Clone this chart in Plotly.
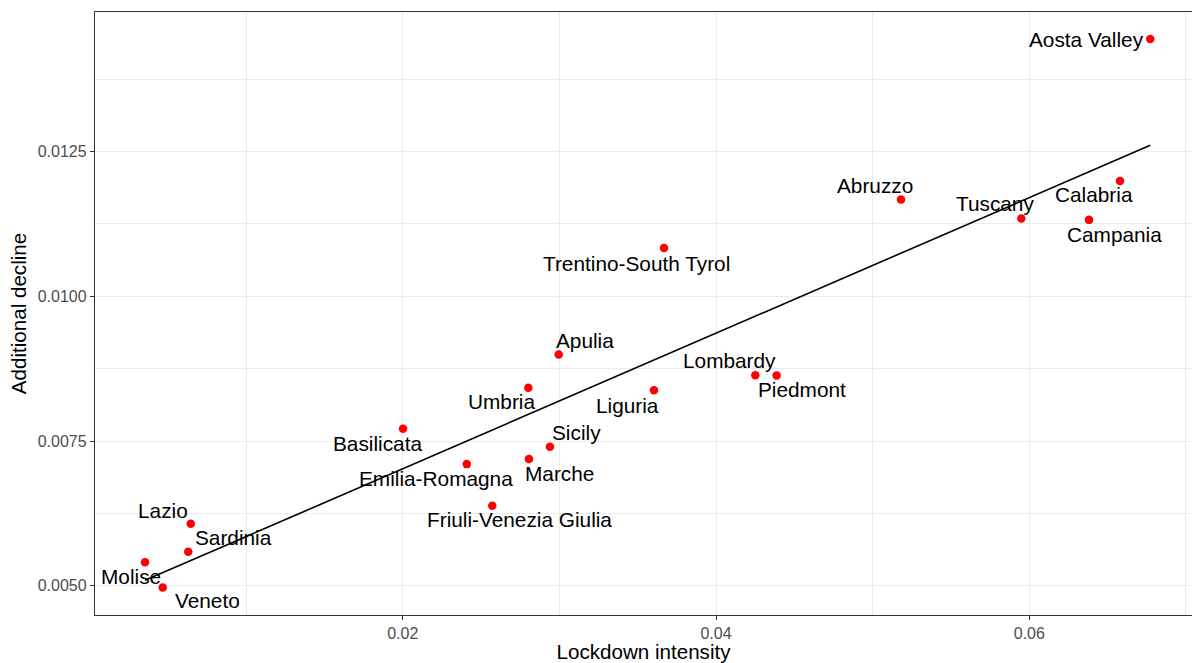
import numpy as np
import plotly.graph_objects as go

regions = ["Aosta Valley", "Calabria", "Campania", "Tuscany", "Abruzzo",
           "Trentino-South Tyrol", "Apulia", "Umbria", "Liguria", "Basilicata",
           "Sicily", "Marche", "Emilia-Romagna", "Friuli-Venezia Giulia",
           "Lombardy", "Piedmont", "Lazio", "Sardinia", "Molise", "Veneto"]
lockdown_intensity = [0.06772, 0.06579, 0.06381, 0.05949, 0.05181,
                      0.03668, 0.02996, 0.02802, 0.03604, 0.02002,
                      0.02940, 0.02806, 0.02409, 0.02572,
                      0.04251, 0.04387, 0.00647, 0.00631, 0.00355, 0.00468]
additional_decline = [0.014441, 0.011991, 0.011318, 0.011341, 0.011668,
                      0.010832, 0.008994, 0.008420, 0.008378, 0.007712,
                      0.007402, 0.007188, 0.007101, 0.006384,
                      0.008637, 0.008632, 0.006073, 0.005590, 0.005406, 0.004969]

x_ticks = [0.02, 0.04, 0.06]
x_tick_text = ["0.02", "0.04", "0.06"]
y_ticks = [0.0050, 0.0075, 0.0100, 0.0125]
y_tick_text = ["0.0050", "0.0075", "0.0100", "0.0125"]

# label offsets in pixels (dx right, dy down) - layout only
label_offsets = {
    "Aosta Valley": (-64, 1), "Calabria": (-26, 14), "Campania": (26, 15),
    "Tuscany": (-26, -15), "Abruzzo": (-26, -14), "Trentino-South Tyrol": (-27, 15),
    "Apulia": (26, -14), "Umbria": (-27, 14), "Liguria": (-26, 15),
    "Basilicata": (-26, 15), "Sicily": (27, -14), "Marche": (31, 14),
    "Emilia-Romagna": (-31, 14), "Friuli-Venezia Giulia": (27, 14),
    "Lombardy": (-26, -15), "Piedmont": (25, 14), "Lazio": (-28, -13),
    "Sardinia": (45, -14), "Molise": (-14, 14), "Veneto": (45, 13),
}

FONT = "Liberation Sans, Arial, sans-serif"

xs = np.array(lockdown_intensity)
ys = np.array(additional_decline)
slope, intercept = np.polyfit(xs, ys, 1)
line_x = np.array([xs.min(), xs.max()])
line_y = slope * line_x + intercept

fig = go.Figure()
fig.add_trace(go.Scatter(x=line_x, y=line_y, mode="lines",
                         line=dict(color="black", width=1.6),
                         hoverinfo="skip", showlegend=False))
fig.add_trace(go.Scatter(x=lockdown_intensity, y=additional_decline, mode="markers",
                         marker=dict(color="#FF0000", size=8.5, line=dict(width=0)),
                         text=regions, showlegend=False))

for name, xv, yv in zip(regions, lockdown_intensity, additional_decline):
    dx, dy = label_offsets[name]
    fig.add_annotation(x=xv, y=yv, xref="x", yref="y", text=name, showarrow=False,
                       xanchor="center", yanchor="middle", xshift=dx, yshift=-dy,
                       font=dict(family=FONT, size=20.8, color="black"))

grid_major = "#EBEBEB"
fig.update_layout(
    width=1192, height=663, autosize=False,
    margin=dict(l=95, r=0, t=12, b=48),
    paper_bgcolor="white", plot_bgcolor="white",
    font=dict(family=FONT),
    xaxis=dict(
        range=[0.000358, 0.070386], tickvals=x_ticks, ticktext=x_tick_text,
        showgrid=True, gridcolor=grid_major, gridwidth=1.3,
        minor=dict(dtick=0.01, tick0=0, showgrid=True, gridcolor=grid_major, gridwidth=0.7, ticks=""),
        showline=True, linecolor="#333333", linewidth=1.4, mirror=True,
        ticks="outside", ticklen=4, tickcolor="#333333", tickwidth=1.1,
        tickfont=dict(family=FONT, size=16, color="#4D4D4D"),
        title=dict(text="Lockdown intensity", font=dict(family=FONT, size=20.6, color="black"), standoff=7),
        zeroline=False,
    ),
    yaxis=dict(
        range=[0.004496, 0.014907], tickvals=y_ticks, ticktext=y_tick_text,
        showgrid=True, gridcolor=grid_major, gridwidth=1.3,
        minor=dict(dtick=0.00125, tick0=0, showgrid=True, gridcolor=grid_major, gridwidth=0.7, ticks=""),
        showline=True, linecolor="#333333", linewidth=1.4, mirror=False,
        ticks="outside", ticklen=4, tickcolor="#333333", tickwidth=1.1,
        tickfont=dict(family=FONT, size=16, color="#4D4D4D"),
        title=dict(text="Additional decline", font=dict(family=FONT, size=20.6, color="black"), standoff=5),
        zeroline=False,
    ),
)

fig.write_html("out.html", config={"displayModeBar": False},
               post_script="document.body.style.margin='0';document.body.style.overflow='hidden';")
